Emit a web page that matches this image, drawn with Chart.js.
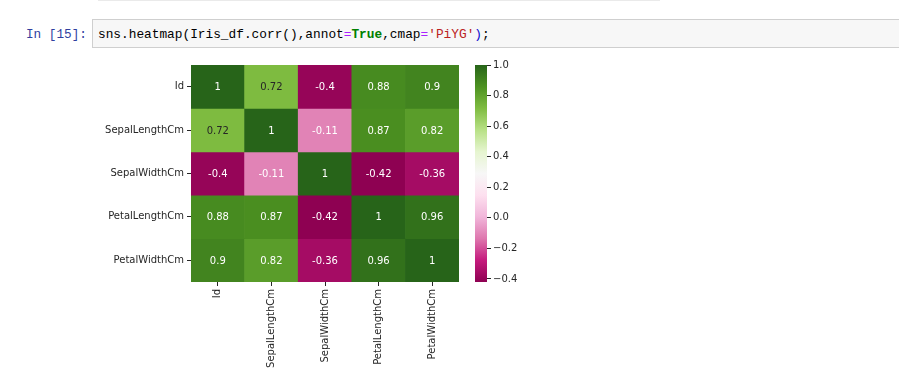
<!DOCTYPE html>
<html>
<head>
<meta charset="utf-8">
<script src="https://cdn.jsdelivr.net/npm/chart.js@4.4.0/dist/chart.umd.min.js"></script>
<style>
  body { margin: 0; background: #fff; width: 899px; height: 380px; overflow: hidden; position: relative; font-family: 'DejaVu Sans', sans-serif; }
  .prev { position: absolute; left: 98px; top: 0; width: 562px; height: 1px; background: #eaeaea; }
  .prompt { position: absolute; left: 26px; top: 27px; font: 12.7px 'Liberation Mono', monospace; color: #303f9f; }
  .cell { position: absolute; left: 92px; top: 19px; width: 820px; height: 29px; background: #f7f7f7; border: 1px solid #cfcfcf; box-sizing: border-box; }
  .code { position: absolute; left: 98px; top: 27px; font: 12.8px 'Liberation Mono', monospace; color: #000; white-space: pre; }
  .op { color: #aa22ff; }
  .kw { color: #008000; font-weight: bold; }
  .st { color: #ba2121; }
  .br { color: #0b0bd0; }
  #heat { position: absolute; left: 90px; top: 60px; }
  #cbar { position: absolute; left: 470px; top: 60px; }
</style>
</head>
<body>
<div class="prev"></div>
<div class="prompt">In [15]:</div>
<div class="cell"></div>
<div class="code">sns.heatmap(Iris_df.corr(),annot<span class="op">=</span><span class="kw">True</span>,cmap<span class="op">=</span><span class="st">'PiYG'</span><span class="br">)</span>;</div>
<canvas id="heat" width="380" height="320"></canvas>
<canvas id="cbar" width="70" height="230"></canvas>
<script>
const rowLabels = ['Id', 'SepalLengthCm', 'SepalWidthCm', 'PetalLengthCm', 'PetalWidthCm'];
const colLabels = ['Id', 'SepalLengthCm', 'SepalWidthCm', 'PetalLengthCm', 'PetalWidthCm'];
const corrValues = [
    [1, 0.72, -0.4, 0.88, 0.9],
    [0.72, 1, -0.11, 0.87, 0.82],
    [-0.4, -0.11, 1, -0.42, -0.36],
    [0.88, 0.87, -0.42, 1, 0.96],
    [0.9, 0.82, -0.36, 0.96, 1]
];
const colorbarTicks = [-0.4, -0.2, 0.0, 0.2, 0.4, 0.6, 0.8, 1.0];

// PiYG colour stops (ColorBrewer)
const piyg = ['#8e0152', '#c51b7d', '#de77ae', '#f1b6da', '#fde0ef', '#f7f7f7',
              '#e6f5d0', '#b8e186', '#7fbc41', '#4d9221', '#276419'];

const vmin = Math.min(...corrValues.flat());
const vmax = Math.max(...corrValues.flat());

const hexToRgb = h => [1, 3, 5].map(i => parseInt(h.slice(i, i + 2), 16));

const cmap = v => {
    const t = Math.max(0, Math.min(1, (v - vmin) / (vmax - vmin))) * (piyg.length - 1);
    const i = Math.min(Math.floor(t), piyg.length - 2);
    const f = t - i;
    const a = hexToRgb(piyg[i]), b = hexToRgb(piyg[i + 1]);
    const c = a.map((x, k) => Math.round(x + (b[k] - x) * f));
    return `rgb(${c[0]},${c[1]},${c[2]})`;
};

const luminance = v => {
    const c = cmap(v).match(/\d+/g).map(Number).map(x => {
        x /= 255;
        return x <= 0.03928 ? x / 12.92 : Math.pow((x + 0.055) / 1.055, 2.4);
    });
    return 0.2126 * c[0] + 0.7152 * c[1] + 0.0722 * c[2];
};

// no extra padding from the tick labels, the plot box is placed by hand
const noPad = s => { s.paddingTop = 0; s.paddingBottom = 0; s.paddingLeft = 0; s.paddingRight = 0; };

Chart.defaults.font.family = "'DejaVu Sans', sans-serif";
Chart.defaults.font.size = 10;
Chart.defaults.color = '#262626';

// Annotations in the centre of every cell
const annotPlugin = {
    id: 'annot',
    afterDatasetsDraw(chart) {
        const ctx = chart.ctx;
        ctx.save();
        ctx.font = "10px 'DejaVu Sans', sans-serif";
        ctx.textAlign = 'center';
        ctx.textBaseline = 'middle';
        chart.data.datasets.forEach((ds, r) => {
            chart.getDatasetMeta(r).data.forEach((bar, c) => {
                const v = corrValues[r][c];
                const p = bar.getCenterPoint();
                ctx.fillStyle = luminance(v) > 0.4 ? '#262626' : '#ffffff';
                ctx.fillText(String(v), p.x, p.y + 1);
            });
        });
        ctx.restore();
    }
};

new Chart(document.getElementById('heat'), {
    type: 'bar',
    data: {
        labels: colLabels,
        datasets: rowLabels.map((name, r) => ({
            label: name,
            data: colLabels.map(() => [r, r + 1]),
            backgroundColor: corrValues[r].map(cmap),
            borderWidth: 0,
            grouped: false,
            barPercentage: 1,
            categoryPercentage: 1
        }))
    },
    options: {
        responsive: false,
        animation: false,
        layout: { padding: { top: 5, right: 11, bottom: 0, left: 0 } },
        plugins: { legend: { display: false }, tooltip: { enabled: false } },
        scales: {
            x: {
                grid: { offset: false, drawOnChartArea: false, tickLength: 4, tickColor: '#262626' },
                border: { display: false },
                ticks: { autoSkip: false, maxRotation: 90, minRotation: 90, padding: 3 },
                afterFit: s => { s.height = 98; noPad(s); }
            },
            y: {
                min: 0,
                max: 5,
                reverse: true,
                grid: { drawOnChartArea: false, tickLength: 4, tickColor: '#262626' },
                border: { display: false },
                afterBuildTicks: s => { s.ticks = rowLabels.map((_, i) => ({ value: i + 0.5 })); },
                ticks: { padding: 3, callback: (v, i) => rowLabels[i] },
                afterFit: s => { s.width = 101; noPad(s); }
            }
        }
    },
    plugins: [annotPlugin]
});

// Colour bar
new Chart(document.getElementById('cbar'), {
    type: 'bar',
    data: {
        labels: [''],
        datasets: [{
            data: [[vmin, vmax]],
            borderWidth: 0,
            barPercentage: 1,
            categoryPercentage: 1,
            backgroundColor: ctx => {
                const area = ctx.chart.chartArea;
                if (!area) return piyg[5];
                const g = ctx.chart.ctx.createLinearGradient(0, area.bottom, 0, area.top);
                piyg.forEach((col, i) => g.addColorStop(i / (piyg.length - 1), col));
                return g;
            }
        }]
    },
    options: {
        responsive: false,
        animation: false,
        layout: { padding: { top: 5, right: 0, bottom: 8, left: 5 } },
        plugins: { legend: { display: false }, tooltip: { enabled: false } },
        scales: {
            x: { display: false },
            y: {
                position: 'right',
                min: vmin,
                max: vmax,
                grid: { drawOnChartArea: false, tickLength: 4, tickColor: '#262626' },
                border: { display: false },
                afterBuildTicks: s => { s.ticks = colorbarTicks.map(v => ({ value: v })); },
                ticks: {
                    padding: 2,
                    callback: v => v.toFixed(1).replace('-', '\u2212')
                },
                afterFit: s => { s.width = 53; noPad(s); }
            }
        }
    }
});
</script>
</body>
</html>
